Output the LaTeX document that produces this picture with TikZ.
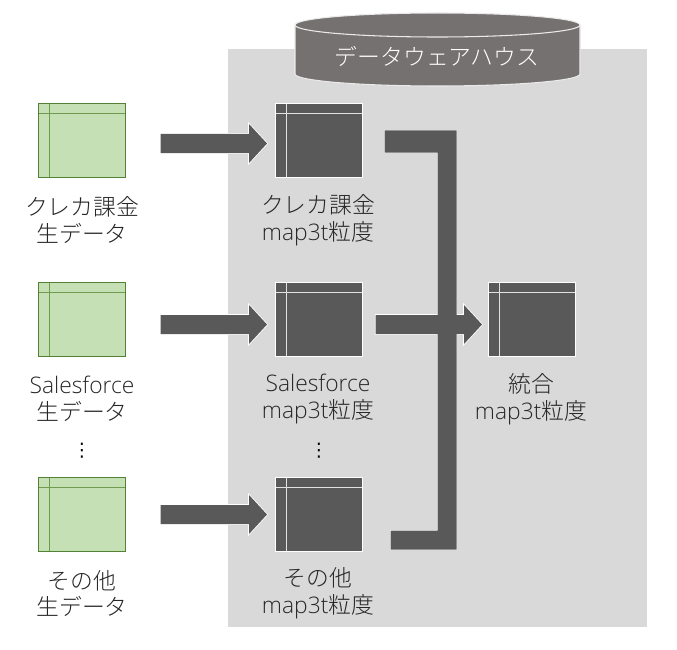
\documentclass[tikz,border=0pt]{standalone}
\usepackage{fontspec}
\usetikzlibrary{calc}
\setmainfont{Noto Sans CJK JP}[UprightFont={* Light}]
\newfontfamily\latinface{Open Sans}[UprightFont={* Light}]
\newfontfamily\symbolface{DejaVu Sans}
\definecolor{wallgray}{HTML}{D9D9D9}
\definecolor{darkblock}{HTML}{595959}
\definecolor{drum}{HTML}{767171}
\definecolor{rawfill}{HTML}{C5E0B4}
\definecolor{rawline}{HTML}{548235}
\definecolor{rawrule}{HTML}{6F9A50}
\tikzset{
  x=0.75pt, y=-0.75pt,
  tablebox/.style={rectangle, inner sep=0pt, minimum width=65pt, minimum height=55.5pt, line width=0.75pt, anchor=north west},
  rawtable/.style={tablebox, draw=rawline, fill=rawfill,
    path picture={\draw[rawrule, line width=0.9pt]
      ($(path picture bounding box.north west)+(0,-7.5pt)$) -- ($(path picture bounding box.north east)+(0,-7.5pt)$)
      ($(path picture bounding box.north west)+(8.5pt,0)$) -- ($(path picture bounding box.south west)+(8.5pt,0)$);}},
  dwtable/.style={tablebox, draw=white, fill=darkblock,
    path picture={\draw[white!82!darkblock, line width=0.9pt]
      ($(path picture bounding box.north west)+(0,-7.5pt)$) -- ($(path picture bounding box.north east)+(0,-7.5pt)$)
      ($(path picture bounding box.north west)+(8.5pt,0)$) -- ($(path picture bounding box.south west)+(8.5pt,0)$);}},
  caption/.style={align=center, font=\fontsize{17.1pt}{20pt}\selectfont, text=black!85, inner sep=0pt},
  vdots/.style={font=\symbolface\fontsize{14pt}{18pt}\selectfont, inner sep=0pt, text=black},
  halo/.style={draw=white, line width=1.2pt, line join=miter},
  solidblock/.style={fill=darkblock, draw=none}
}
% outline of a block arrow running right from #1 to #2
\newcommand{\arrowoutline}[2]{
  ($(#1)+(0,-9.5)$) -- ($(#2)+(-18,-9.5)$) -- ($(#2)+(-18,-19.5)$) -- (#2) --
  ($(#2)+(-18,19.5)$) -- ($(#2)+(-18,9.5)$) -- ($(#1)+(0,9.5)$) -- cycle
}
\begin{document}
\begin{tikzpicture}
\useasboundingbox (0,0) rectangle (677,649);
\fill[wallgray] (228,49) rectangle (647,627);

% warehouse drum
\path[fill=drum, draw=white!85!drum, line width=0.8pt]
  (295,25) -- (295,74) arc[start angle=180, end angle=360, x radius=106.875pt, y radius=9pt]
  -- (580,25) arc[start angle=0, end angle=180, x radius=106.875pt, y radius=9pt] -- cycle;
\draw[white!85!drum, line width=0.8pt] (295,25) arc[start angle=180, end angle=360, x radius=106.875pt, y radius=9pt];
\node[font=\fontsize{17.1pt}{20pt}\selectfont, text=white, inner sep=0pt] (dwh) at (437,56) {データウェアハウス};

% source tables
\node[rawtable] (g1) at (38,103) {};
\node[rawtable] (g2) at (38,282) {};
\node[rawtable] (g3) at (38,477) {};
% warehouse tables
\node[dwtable] (d1) at (275,103) {};
\node[dwtable] (d2) at (275,282) {};
\node[dwtable] (d3) at (275,477) {};
\node[dwtable] (m) at (488,282) {};

% feed points of the arrows
\coordinate (a1s) at ($(g1.east)+(35,3)$);
\coordinate (a2s) at ($(g2.east)+(35,5)$);
\coordinate (a3s) at ($(g3.east)+(35,0)$);
\coordinate (a1e) at ($(d1.west)+(-8,3)$);
\coordinate (a2e) at ($(d2.west)+(-8,5)$);
\coordinate (a3e) at ($(d3.west)+(-8,0)$);
\coordinate (mergeS) at ($(d2.east)+(13,5)$);
\coordinate (mergeE) at ($(m.west)+(-6,5)$);
\coordinate (busTop) at ($(d1.east)+(22,-10)$);
\coordinate (busBot) at ($(d3.east)+(28,35)$);

\foreach \s/\e in {a1s/a1e,a2s/a2e,a3s/a3e}{
  \draw[halo] \arrowoutline{\s}{\e};
  \fill[solidblock] \arrowoutline{\s}{\e};
}

% merging bus and the arrow crossing it share one outline
\draw[halo] (busTop) -- ++(72,0) |- (busBot) -- ++(0,-19) -| ($(busTop)+(53,22)$) -- ($(busTop)+(0,22)$) -- cycle;
\draw[halo] \arrowoutline{mergeS}{mergeE};
\fill[solidblock] (busTop) -- ++(72,0) |- (busBot) -- ++(0,-19) -| ($(busTop)+(53,22)$) -- ($(busTop)+(0,22)$) -- cycle;
\fill[solidblock] \arrowoutline{mergeS}{mergeE};

% captions
\node[caption] (c1) at (82,220) {クレカ課金\\生データ};
\node[caption] (c2) at (82,398.5) {{\latinface Salesforce}\\生データ};
\node[caption] (c3) at (82,593.5) {その他\\生データ};
\node[caption] (c4) at (318,220) {クレカ課金\\{\latinface map3t}粒度};
\node[caption] (c5) at (318,399) {{\latinface Salesforce}\\{\latinface map3t}粒度};
\node[caption] (c6) at (318,593.5) {その他\\{\latinface map3t}粒度};
\node[caption] (c7) at (531,399) {統合\\{\latinface map3t}粒度};
\node[vdots] (v1) at (82,451) {⋮};
\node[vdots] (v2) at (319,451) {⋮};
\end{tikzpicture}
\end{document}
